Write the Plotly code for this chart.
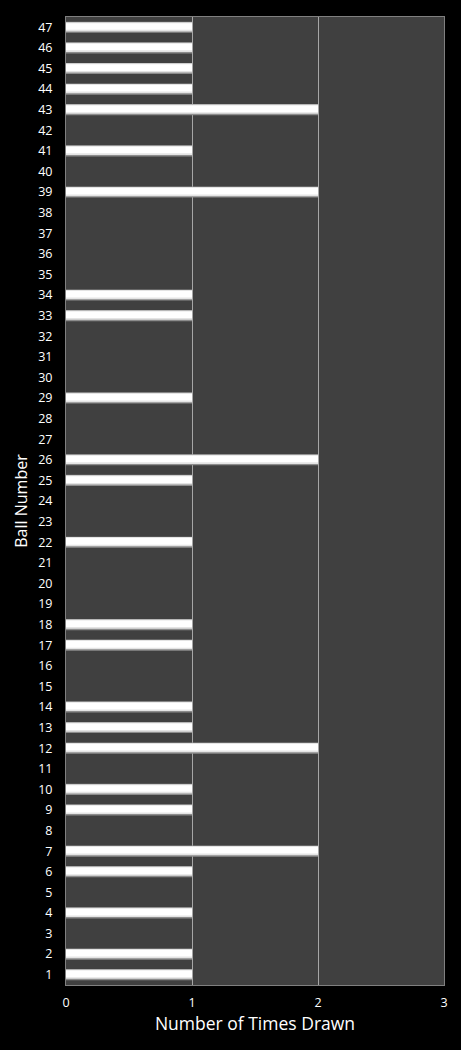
import plotly.graph_objects as go

balls = list(range(1, 48))
drawn = {1: 1, 2: 1, 4: 1, 6: 1, 7: 2, 9: 1, 10: 1, 12: 2, 13: 1, 14: 1,
         17: 1, 18: 1, 22: 1, 25: 1, 26: 2, 29: 1, 33: 1, 34: 1, 39: 2,
         41: 1, 43: 2, 44: 1, 45: 1, 46: 1, 47: 1}
times = [drawn.get(b, 0) for b in balls]

fig = go.Figure()
# gray shadow, then lighter layers on top for the glossy look
fig.add_trace(go.Bar(x=times, y=balls, orientation="h", width=0.54, offset=-0.27,
                     marker=dict(color="#8c8c8c", line=dict(width=0)),
                     showlegend=False, hoverinfo="skip"))
fig.add_trace(go.Bar(x=times, y=balls, orientation="h", width=0.45, offset=-0.2,
                     marker=dict(color="#e4e4e4", line=dict(width=0)),
                     showlegend=False, hoverinfo="skip"))
fig.add_trace(go.Bar(x=times, y=balls, orientation="h", width=0.32, offset=-0.12,
                     marker=dict(color="#ffffff", line=dict(width=0)),
                     showlegend=False))

fig.update_layout(
    width=461, height=1050,
    barmode="overlay",
    paper_bgcolor="black",
    plot_bgcolor="#404040",
    margin=dict(l=66, r=17, t=17, b=65),
    font=dict(family="Open Sans, DejaVu Sans", color="white", size=12),
    xaxis=dict(range=[0, 3], dtick=1, showgrid=True, gridcolor="#a6a6a6",
               gridwidth=1, zeroline=False, showline=True, linecolor="#808080",
               mirror=True, ticks="", tickfont=dict(size=12.5), ticklabelstandoff=6,
               title=dict(text="Number of Times Drawn", font=dict(size=17.5), standoff=7)),
    yaxis=dict(range=[0.5, 47.5], dtick=1, showgrid=False, zeroline=False,
               showline=True, linecolor="#808080", mirror=True, ticks="",
               tickfont=dict(size=12.5), ticklabelstandoff=10,
               title=dict(text="Ball Number", font=dict(size=16), standoff=6)),
)

# page has a default white margin; make it black and flush
fig.write_html("out.html", config={"displayModeBar": False},
               post_script="document.body.style.margin='0';document.body.style.background='black';")
